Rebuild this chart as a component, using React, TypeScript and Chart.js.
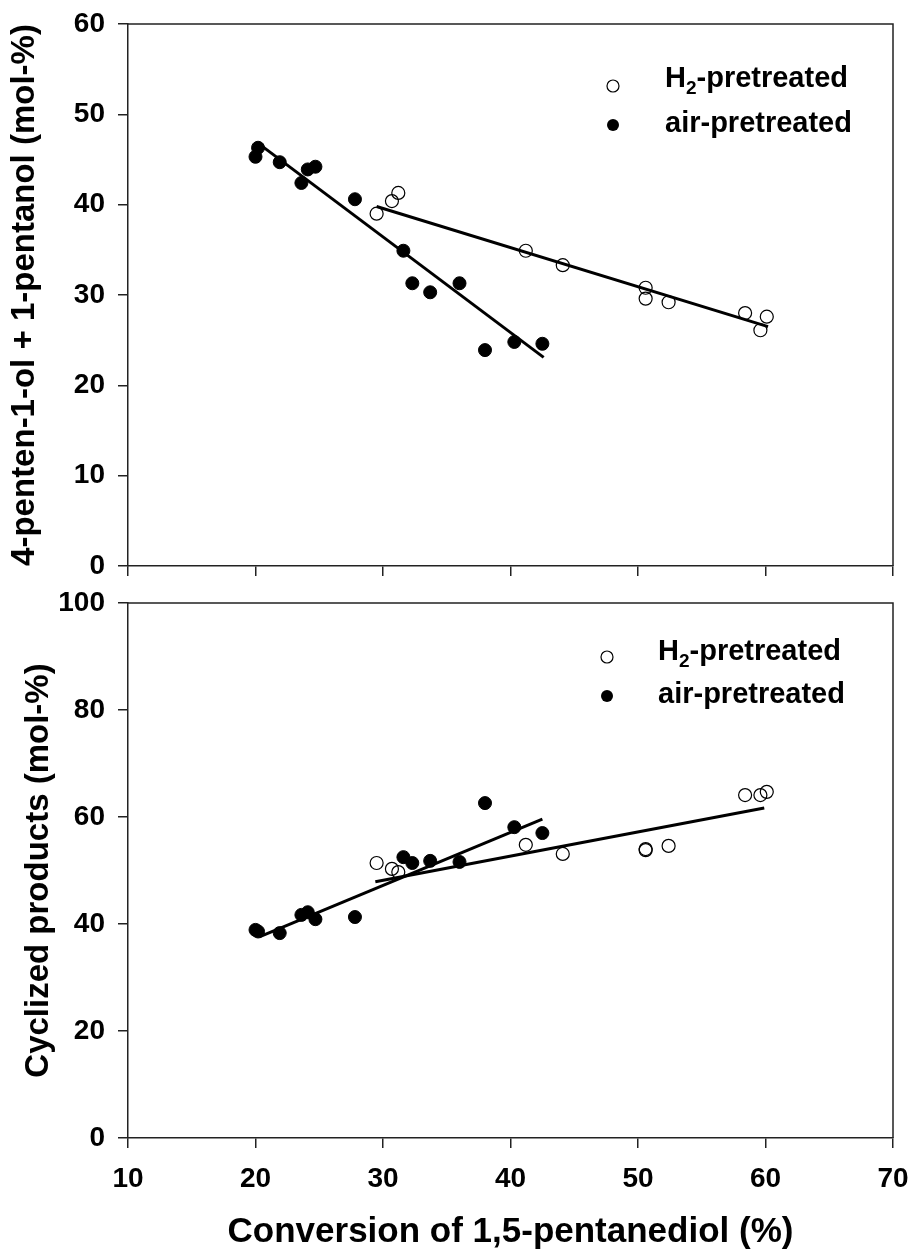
import React, { useEffect, useRef } from 'react';
import { Chart, registerables } from 'chart.js';

Chart.register(...registerables);

// ---------- data ----------
const xTickValues = [10, 20, 30, 40, 50, 60, 70];

// air-pretreated (filled circles)
const airX = [20.0, 20.2, 21.9, 23.6, 24.1, 24.7, 27.8, 31.6, 32.3, 33.7, 36.0, 38.0, 40.3, 42.5];
const airTop = [45.3, 46.3, 44.7, 42.4, 43.9, 44.2, 40.6, 34.9, 31.3, 30.3, 31.3, 23.9, 24.8, 24.6];
const airBottom = [38.9, 38.6, 38.3, 41.7, 42.2, 40.9, 41.3, 52.5, 51.4, 51.8, 51.6, 62.6, 58.1, 57.0];

// H2-pretreated (open circles)
const h2X = [29.5, 30.7, 31.2, 41.2, 44.1, 50.6, 50.6, 52.4, 58.4, 59.6, 60.1];
const h2Top = [39.0, 40.4, 41.3, 34.9, 33.3, 30.8, 29.6, 29.2, 28.0, 26.1, 27.6];
const h2Bottom = [51.4, 50.3, 49.7, 54.8, 53.1, 53.8, 54.0, 54.6, 64.1, 64.1, 64.7];

// fitted regression lines (end points)
const airFitTopX = [20.3, 42.6];
const airFitTopY = [46.7, 23.1];
const h2FitTopX = [29.5, 60.2];
const h2FitTopY = [39.8, 26.5];
const airFitBottomX = [20.3, 42.5];
const airFitBottomY = [37.6, 59.6];
const h2FitBottomX = [29.4, 59.9];
const h2FitBottomY = [47.9, 61.7];

const legendLabels = ['H|2|-pretreated', 'air-pretreated'];

// ---------- helpers ----------
const FONT = '"Liberation Sans", Arial, Helvetica, sans-serif';
const AXIS_COLOR = '#222';

const pts = (xs: number[], ys: number[]) => xs.map((x, i) => ({ x, y: ys[i] }));

const frameAndLegend = {
  id: 'frameAndLegend',
  afterDraw(chart: any) {
    const { ctx, chartArea } = chart;
    const opts = chart.options.plugins.frameAndLegend || {};
    ctx.save();
    ctx.strokeStyle = AXIS_COLOR;
    ctx.lineWidth = 1.5;
    ctx.beginPath();
    ctx.moveTo(chartArea.left, chartArea.top);
    ctx.lineTo(chartArea.right, chartArea.top);
    ctx.lineTo(chartArea.right, chartArea.bottom);
    ctx.stroke();

    const lg = opts.legend;
    if (lg) {
      lg.items.forEach((it: any, i: number) => {
        const my = lg.markerY[i];
        ctx.beginPath();
        ctx.arc(lg.markerX, my, 6, 0, Math.PI * 2);
        if (it.filled) {
          ctx.fillStyle = '#000';
          ctx.fill();
        } else {
          ctx.strokeStyle = '#000';
          ctx.lineWidth = 1.2;
          ctx.stroke();
        }
        // text with optional subscript (segments split by |)
        const parts = it.label.split('|');
        let x = lg.textX;
        const base = lg.textBaseY[i];
        ctx.fillStyle = '#000';
        ctx.textBaseline = 'alphabetic';
        ctx.textAlign = 'left';
        parts.forEach((p: string, k: number) => {
          const isSub = parts.length === 3 && k === 1;
          ctx.font = isSub ? `bold 19px ${FONT}` : `bold 29px ${FONT}`;
          ctx.fillText(p, x, isSub ? base + 7 : base);
          x += ctx.measureText(p).width;
        });
      });
    }
    ctx.restore();
  },
};

type PanelProps = {
  height: number;
  top: number;
  padTop: number;
  xHeight: number;
  yMax: number;
  yStep: number;
  yTitle: string;
  yTitlePad: number;
  showXLabels: boolean;
  airY: number[];
  h2Y: number[];
  airFitX: number[];
  airFitY: number[];
  h2FitX: number[];
  h2FitY: number[];
  legend: any;
};

function Panel(p: PanelProps) {
  const ref = useRef<HTMLCanvasElement | null>(null);
  useEffect(() => {
    if (!ref.current) return;
    const chart = new Chart(ref.current, {
      type: 'scatter',
      data: {
        datasets: [
          {
            type: 'line',
            label: 'air fit',
            data: pts(p.airFitX, p.airFitY),
            borderColor: '#000',
            borderWidth: 3,
            pointRadius: 0,
            showLine: true,
            order: 0,
          } as any,
          {
            type: 'line',
            label: 'H2 fit',
            data: pts(p.h2FitX, p.h2FitY),
            borderColor: '#000',
            borderWidth: 3,
            pointRadius: 0,
            showLine: true,
            order: 0,
          } as any,
          {
            label: 'H2-pretreated',
            data: pts(h2X, p.h2Y),
            pointRadius: 6.5,
            pointBackgroundColor: 'rgba(0,0,0,0)',
            pointBorderColor: '#000',
            pointBorderWidth: 1.2,
            order: 1,
          },
          {
            label: 'air-pretreated',
            data: pts(airX, p.airY),
            pointRadius: 6.5,
            pointBackgroundColor: '#000',
            pointBorderColor: '#000',
            pointBorderWidth: 1,
            order: 1,
          },
        ],
      },
      options: {
        animation: false,
        responsive: false,
        maintainAspectRatio: false,
        layout: { padding: { top: p.padTop, right: 21, left: 0, bottom: 0 } },
        plugins: {
          legend: { display: false },
          tooltip: { enabled: false },
          frameAndLegend: { legend: p.legend },
        } as any,
        scales: {
          x: {
            type: 'linear',
            min: 10,
            max: 70,
            afterBuildTicks: (s: any) => {
              s.ticks = xTickValues.map((v) => ({ value: v }));
            },
            afterFit: (s: any) => {
              s.height = p.xHeight;
              s.paddingLeft = 0;
              s.paddingRight = 0;
            },
            border: { display: true, color: AXIS_COLOR, width: 1.5 },
            grid: {
              drawOnChartArea: false,
              drawTicks: true,
              tickLength: 10,
              tickColor: AXIS_COLOR,
              lineWidth: 1.5,
            },
            ticks: {
              display: p.showXLabels,
              maxRotation: 0,
              padding: 14,
              color: '#000',
              font: { family: FONT, size: 28, weight: 'bold' },
            },
            title: {
              display: p.showXLabels,
              text: 'Conversion of 1,5-pentanediol (%)',
              color: '#000',
              font: { family: FONT, size: 35, weight: 'bold' },
              padding: { top: 0, bottom: 0 },
            },
          },
          y: {
            type: 'linear',
            min: 0,
            max: p.yMax,
            ticks: {
              stepSize: p.yStep,
              padding: 13,
              color: '#000',
              font: { family: FONT, size: 28, weight: 'bold' },
            },
            afterFit: (s: any) => {
              s.width = 128;
              s.paddingTop = 0;
              s.paddingBottom = 0;
            },
            border: { display: true, color: AXIS_COLOR, width: 1.5 },
            grid: {
              drawOnChartArea: false,
              drawTicks: true,
              tickLength: 10,
              tickColor: AXIS_COLOR,
              lineWidth: 1.5,
            },
            title: {
              display: true,
              text: p.yTitle,
              color: '#000',
              font: { family: FONT, size: 33, weight: 'bold' },
              padding: { top: p.yTitlePad, bottom: 0 },
            },
          },
        },
      } as any,
      plugins: [frameAndLegend],
    });
    return () => chart.destroy();
  }, []);
  return (
    <canvas
      ref={ref}
      width={914}
      height={p.height}
      style={{ position: 'absolute', left: 0, top: p.top, width: 914, height: p.height }}
    />
  );
}

export default function App() {
  const items = [
    { label: legendLabels[0], filled: false },
    { label: legendLabels[1], filled: true },
  ];
  return (
    <div style={{ position: 'absolute', left: 0, top: 0, width: 914, height: 1253, background: '#fff', overflow: 'hidden' }}>
      <Panel
        height={590}
        top={0}
        padTop={24}
        xHeight={24}
        yMax={60}
        yStep={10}
        yTitle="4-penten-1-ol + 1-pentanol (mol-%)"
        yTitlePad={5}
        showXLabels={false}
        airY={airTop}
        h2Y={h2Top}
        airFitX={airFitTopX}
        airFitY={airFitTopY}
        h2FitX={h2FitTopX}
        h2FitY={h2FitTopY}
        legend={{ items, markerX: 613, markerY: [86, 125], textX: 665, textBaseY: [87, 132] }}
      />
      <Panel
        height={663}
        top={590}
        padTop={13}
        xHeight={115}
        yMax={100}
        yStep={20}
        yTitle="Cyclized products (mol-%)"
        yTitlePad={19}
        showXLabels={true}
        airY={airBottom}
        h2Y={h2Bottom}
        airFitX={airFitBottomX}
        airFitY={airFitBottomY}
        h2FitX={h2FitBottomX}
        h2FitY={h2FitBottomY}
        legend={{ items, markerX: 607, markerY: [67, 106], textX: 658, textBaseY: [70, 113] }}
      />
    </div>
  );
}
